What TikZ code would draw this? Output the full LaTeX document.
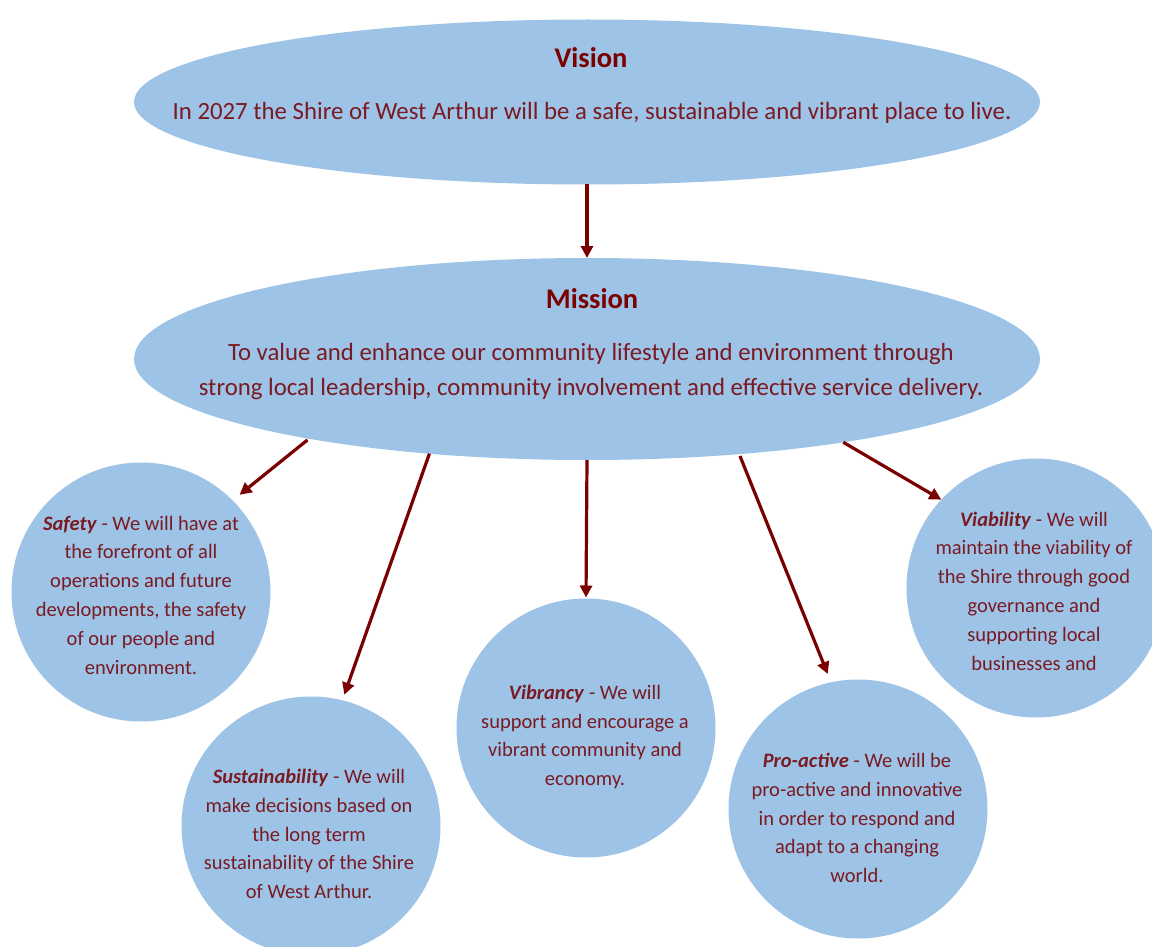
\documentclass[tikz,border=0pt]{standalone}
\usepackage{fontspec}
\setmainfont{Carlito}
\usetikzlibrary{shapes.geometric,arrows.meta}
\definecolor{fillblue}{HTML}{9DC3E6}
\definecolor{dred}{HTML}{7B0000}
\definecolor{tred}{HTML}{7A1A22}
\begin{document}
\begin{tikzpicture}[x=1pt,y=-1pt,
  blob/.style={ellipse, fill=fillblue, draw=none, inner sep=0pt, outer sep=0pt},
  disc/.style={circle, fill=fillblue, draw=none, minimum size=259pt, inner sep=0pt, outer sep=0pt},
  arr/.style={draw=dred, line width=3.2pt, -{Triangle[length=12pt,width=12pt]}},
  titletext/.style={text=dred, font=\fontsize{28.5}{32}\selectfont\bfseries, inner sep=0pt},
  bodytext/.style={text=tred, align=center, font=\fontsize{24.8}{35}\selectfont, inner sep=0pt},
  circtext/.style={text=tred, align=center, font=\fontsize{20.5}{28.8}\selectfont, inner sep=0pt}]
\useasboundingbox (0,0) rectangle (1152,947);
\fill[white] (0,0) rectangle (1152,947);

% shapes
\node[blob, minimum width=906pt, minimum height=165pt] (vision) at (587,102) {};
\node[blob, minimum width=906pt, minimum height=202pt] (mission) at (587,359) {};
\node[disc] (safety) at (141,592) {};
\node[disc] (sustain) at (311,826) {};
\node[disc] (vibrancy) at (586,728) {};
\node[disc] (proactive) at (858,809) {};
\node[disc] (viability) at (1036,588) {};

% texts
\node[titletext] (visiontitle) at (591,58) {Vision};
\node[bodytext] (visionbody) at (592,113) {In 2027 the Shire of West Arthur will be a safe, sustainable and vibrant place to live.};
\node[titletext] (missiontitle) at (592,299) {Mission};
\node[bodytext] (missionbody) at (591,372) {To value and enhance our community lifestyle and environment through\\strong local leadership, community involvement and effective service delivery.};

\node[circtext] (safetytext) at (141,595) {\textbf{\textit{Safety}} - We will have at\\the forefront of all\\operations and future\\developments, the safety\\of our people and\\environment.};
\node[circtext] (sustaintext) at (309,834) {\textbf{\textit{Sustainability}} - We will\\make decisions based on\\the long term\\sustainability of the Shire\\of West Arthur.};
\node[circtext] (vibrancytext) at (585,737) {\textbf{\textit{Vibrancy}} - We will\\support and encourage a\\vibrant community and\\economy.};
\node[circtext] (proactivetext) at (857,818) {\textbf{\textit{Pro-active}} - We will be\\pro-active and innovative\\in order to respond and\\adapt to a changing\\world.};
\node[circtext] (viabilitytext) at (1034,591) {\textbf{\textit{Viability}} - We will\\maintain the viability of\\the Shire through good\\governance and\\supporting local\\businesses and};

% arrows
\draw[arr] (vision.south) -- (mission.north);
\draw[arr, shorten >=9pt, shorten <=2pt] (mission.196.4) -- (safety.45.3);
\draw[arr, shorten >=6pt] (mission.211.9) -- (sustain.76);
\draw[arr, shorten >=1pt] (mission.south) -- (vibrancy.north);
\draw[arr, shorten >=9pt, shorten <=2pt] (mission.328) -- (proactive.102.4);
\draw[arr] (mission.342.4) -- (viability.137.5);
\end{tikzpicture}
\end{document}
